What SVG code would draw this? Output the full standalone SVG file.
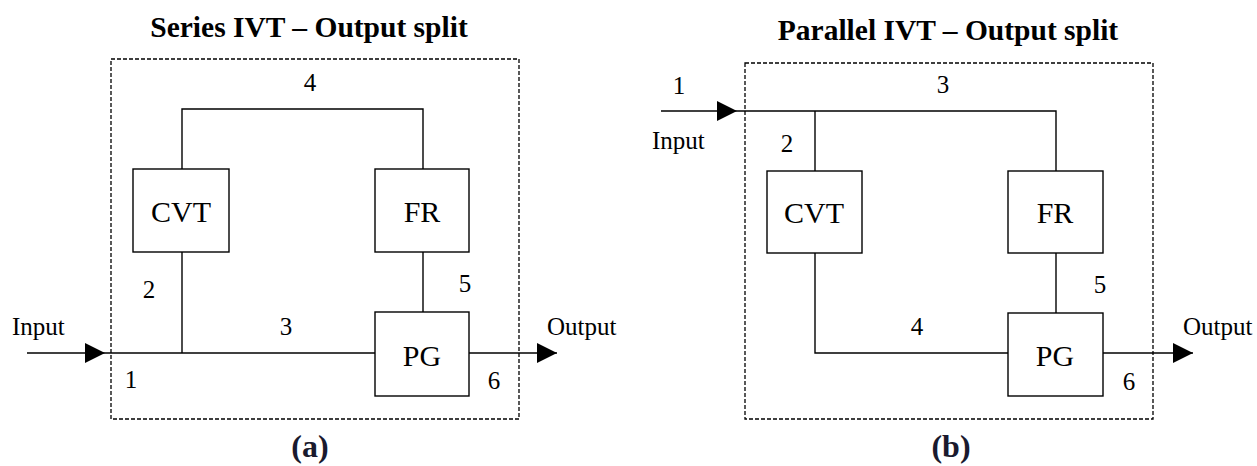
<svg xmlns="http://www.w3.org/2000/svg" width="1257" height="466" viewBox="0 0 1257 466">
  <style>
    .frame { fill: none; stroke: #000; stroke-width: 1.3; stroke-dasharray: 4 2; }
    .box { fill: #fff; stroke: #000; stroke-width: 1.4; }
    .wire { fill: none; stroke: #000; stroke-width: 1.4; }
    .arrow { fill: none; stroke: #000; stroke-width: 1.4; marker-end: url(#head); }
    .title { font-family: "Liberation Serif", "Times New Roman", serif; font-weight: bold; font-size: 29.5px; fill: #000; text-anchor: middle; }
    .sub { font-family: "Liberation Serif", "Times New Roman", serif; font-weight: bold; font-size: 32px; fill: #1a1a2e; text-anchor: middle; }
    .blabel { font-family: "Liberation Serif", "Times New Roman", serif; font-size: 30px; fill: #000; text-anchor: middle; }
    .lbl { font-family: "Liberation Serif", "Times New Roman", serif; font-size: 25px; fill: #000; }
    .num { font-family: "Liberation Serif", "Times New Roman", serif; font-size: 25px; fill: #000; text-anchor: middle; }
  </style>
  <defs>
    <marker id="head" markerUnits="userSpaceOnUse" markerWidth="21" markerHeight="21" refX="20" refY="10" orient="auto">
      <path d="M0,0 L20,10 L0,20 Z" fill="#000"/>
    </marker>
  </defs>

  <!-- Panel (a) -->
  <g id="panel-a">
    <text class="title" x="309" y="37">Series IVT – Output split</text>
    <rect class="frame" x="111" y="59" width="408" height="360"/>
    <text class="sub" x="310" y="457">(a)</text>
  </g>
  <g id="a-connectors">
    <path class="wire" d="M182,169 V109 H423 V169"/>
    <path class="wire" d="M182,252 V353"/>
    <path class="wire" d="M105,353 H375"/>
    <path class="wire" d="M423,252 V312"/>
    <path class="arrow" d="M27,353 H105"/>
    <path class="arrow" d="M469,353 H557"/>
  </g>
  <g id="a-cvt">
    <rect class="box" x="133" y="169" width="96" height="83"/>
    <text class="blabel" x="181" y="222">CVT</text>
  </g>
  <g id="a-fr">
    <rect class="box" x="375" y="169" width="94" height="83"/>
    <text class="blabel" x="422" y="222">FR</text>
  </g>
  <g id="a-pg">
    <rect class="box" x="375" y="312" width="94" height="84"/>
    <text class="blabel" x="422" y="366">PG</text>
  </g>
  <g id="a-labels">
    <text class="num" x="310" y="91">4</text>
    <text class="num" x="149" y="298">2</text>
    <text class="num" x="465" y="292">5</text>
    <text class="num" x="286" y="335">3</text>
    <text class="num" x="131" y="388">1</text>
    <text class="num" x="494" y="389">6</text>
    <text class="lbl" x="12" y="335">Input</text>
    <text class="lbl" x="547" y="335">Output</text>
  </g>

  <!-- Panel (b) -->
  <g id="panel-b">
    <text class="title" x="948" y="40">Parallel IVT – Output split</text>
    <rect class="frame" x="745" y="63" width="408" height="356"/>
    <text class="sub" x="951" y="457">(b)</text>
  </g>
  <g id="b-connectors">
    <path class="arrow" d="M661,111 H737"/>
    <path class="wire" d="M737,111 H1056 V171"/>
    <path class="wire" d="M815,111 V171"/>
    <path class="wire" d="M815,253 V353 H1008"/>
    <path class="wire" d="M1056,253 V313"/>
    <path class="arrow" d="M1103,353 H1193"/>
  </g>
  <g id="b-cvt">
    <rect class="box" x="767" y="171" width="95" height="82"/>
    <text class="blabel" x="814" y="223">CVT</text>
  </g>
  <g id="b-fr">
    <rect class="box" x="1008" y="171" width="95" height="82"/>
    <text class="blabel" x="1055" y="223">FR</text>
  </g>
  <g id="b-pg">
    <rect class="box" x="1008" y="313" width="95" height="83"/>
    <text class="blabel" x="1055" y="366">PG</text>
  </g>
  <g id="b-labels">
    <text class="num" x="679" y="94">1</text>
    <text class="num" x="943" y="93">3</text>
    <text class="num" x="787" y="152">2</text>
    <text class="num" x="1100" y="293">5</text>
    <text class="num" x="917" y="335">4</text>
    <text class="num" x="1129" y="390">6</text>
    <text class="lbl" x="652" y="149">Input</text>
    <text class="lbl" x="1183" y="335">Output</text>
  </g>
</svg>
